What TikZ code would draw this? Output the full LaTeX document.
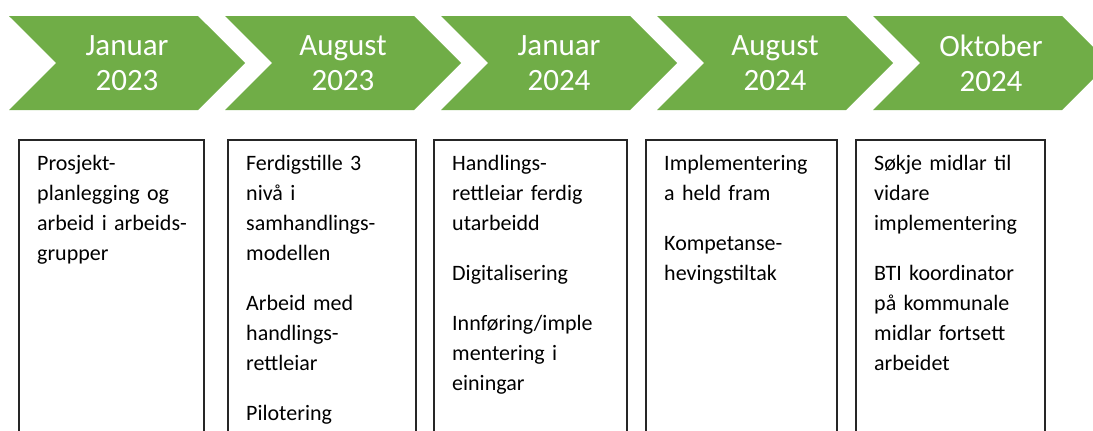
\documentclass[tikz,border=0pt]{standalone}
\usepackage{fontspec}
\setmainfont{Carlito}
\usetikzlibrary{shapes.symbols}
\definecolor{stepgreen}{HTML}{70AD47}

\begin{document}
\begin{tikzpicture}[x=1pt, y=1pt,
  arrowbox/.style={signal, signal from=west, signal to=east, fill=stepgreen, text=white,
    minimum width=236pt, minimum height=94pt, inner sep=0pt, align=center,
    font=\fontsize{31}{35}\selectfont},
  plan/.style={draw=black!85, line width=1.6pt, anchor=north west, minimum height=330pt, inner sep=0pt},
  plantext/.style={anchor=base west, text width=175pt, align=left, inner sep=0pt,
    font=\fontsize{22}{30}\selectfont}]
\path[use as bounding box, clip] (0,0) rectangle (1093,-431);

\node[arrowbox] (J23) at (127,-63) {Januar\\2023};
\node[arrowbox] (A23) at (343,-63) {August\\2023};
\node[arrowbox] (J24) at (559,-63) {Januar\\2024};
\node[arrowbox] (A24) at (775,-63) {August\\2024};
\node[arrowbox] (O24) at (991,-63) {Oktober\\2024};

\node[plan, minimum width=185pt] (P1) at (18,-139) {};
\node[plan, minimum width=188pt] (P2) at (227,-139) {};
\node[plan, minimum width=193pt] (P3) at (433,-139) {};
\node[plan, minimum width=191pt] (P4) at (645,-139) {};
\node[plan, minimum width=189pt] (P5) at (855,-139) {};

\node[plantext] (T1) at (37,-170) {Prosjekt-\\planlegging og\\arbeid i arbeids-\\grupper};
\node[plantext] (T2) at (246,-170) {Ferdigstille 3\\nivå i\\samhandlings-\\modellen\\[20pt]
  Arbeid med\\handlings-\\rettleiar\\[20pt]Pilotering};
\node[plantext] (T3) at (452,-170) {Handlings-\\rettleiar ferdig\\utarbeidd\\[20pt]
  Digitalisering\\[20pt]Innføring/imple\\mentering i\\einingar};
\node[plantext] (T4) at (664,-170) {Implementering\\a held fram\\[20pt]Kompetanse-\\hevingstiltak};
\node[plantext] (T5) at (874,-170) {Søkje midlar til\\vidare\\implementering\\[20pt]
  BTI koordinator\\på kommunale\\midlar fortsett\\arbeidet};
\end{tikzpicture}
\end{document}
